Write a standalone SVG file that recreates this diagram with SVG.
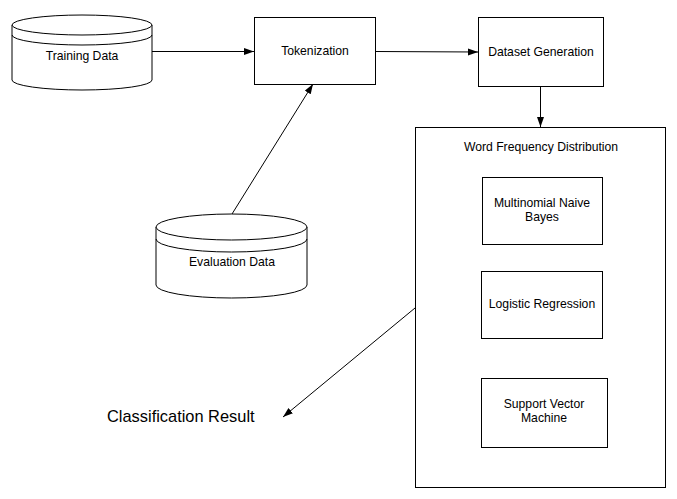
<svg xmlns="http://www.w3.org/2000/svg" width="677" height="499" viewBox="0 0 677 499">
<style>
.shape{fill:#fff;stroke:#000;stroke-width:1}
.line{fill:none;stroke:#000;stroke-width:1}
text{font-family:"Liberation Sans",Arial,sans-serif;font-size:12.2px;fill:#000;text-anchor:middle}
.big{font-size:16.4px;text-anchor:start}
</style>
<defs>
<marker id="arr" markerUnits="userSpaceOnUse" markerWidth="11" markerHeight="8" refX="10" refY="3.5" orient="auto">
<path d="M0,0 L10,3.5 L0,7 Z" fill="#000"/>
</marker>
</defs>
<rect width="677" height="499" fill="#fff"/>
<g id="training-data">
<path class="shape" d="M12,25 L12,80 A70,10 0 0 0 152,80 L152,25"/>
<ellipse class="shape" cx="82" cy="25" rx="70" ry="10"/>
<path class="line" d="M12,35 A70,10 0 0 0 152,35"/>
<text x="82" y="60">Training Data</text>
</g>
<g id="tokenization">
<rect class="shape" x="254.5" y="17.5" width="121" height="67"/>
<text x="315" y="55">Tokenization</text>
</g>
<g id="dataset-generation">
<rect class="shape" x="478.5" y="17.5" width="125" height="69"/>
<text x="541" y="56">Dataset Generation</text>
</g>
<g id="evaluation-data">
<path class="shape" d="M156,227 L156,285 A75.5,13 0 0 0 307,285 L307,227"/>
<ellipse class="shape" cx="231.5" cy="227" rx="75.5" ry="13"/>
<path class="line" d="M156,239 A75.5,13 0 0 0 307,239"/>
<text x="232" y="266">Evaluation Data</text>
</g>
<g id="word-frequency-distribution">
<rect class="shape" x="415.5" y="127.5" width="250" height="360"/>
<text x="541" y="151">Word Frequency Distribution</text>
</g>
<g id="multinomial-naive-bayes">
<rect class="shape" x="482.5" y="177.5" width="120" height="67"/>
<text x="542" y="207">Multinomial Naive</text>
<text x="542" y="221">Bayes</text>
</g>
<g id="logistic-regression">
<rect class="shape" x="481.5" y="271.5" width="121" height="67"/>
<text x="542" y="308">Logistic Regression</text>
</g>
<g id="support-vector-machine">
<rect class="shape" x="481.5" y="378.5" width="126" height="69"/>
<text x="544" y="408">Support Vector</text>
<text x="544" y="422">Machine</text>
</g>
<g id="classification-result">
<text class="big" x="107" y="422">Classification Result</text>
</g>
<g id="connectors">
<line class="line" x1="152" y1="51.5" x2="254" y2="51.5" marker-end="url(#arr)"/>
<line class="line" x1="375.5" y1="51.5" x2="478" y2="52" marker-end="url(#arr)"/>
<line class="line" x1="540.5" y1="87" x2="540.5" y2="127" marker-end="url(#arr)"/>
<line class="line" x1="232" y1="214" x2="313" y2="84" marker-end="url(#arr)"/>
<line class="line" x1="415" y1="308" x2="283" y2="417" marker-end="url(#arr)"/>
</g>
</svg>
